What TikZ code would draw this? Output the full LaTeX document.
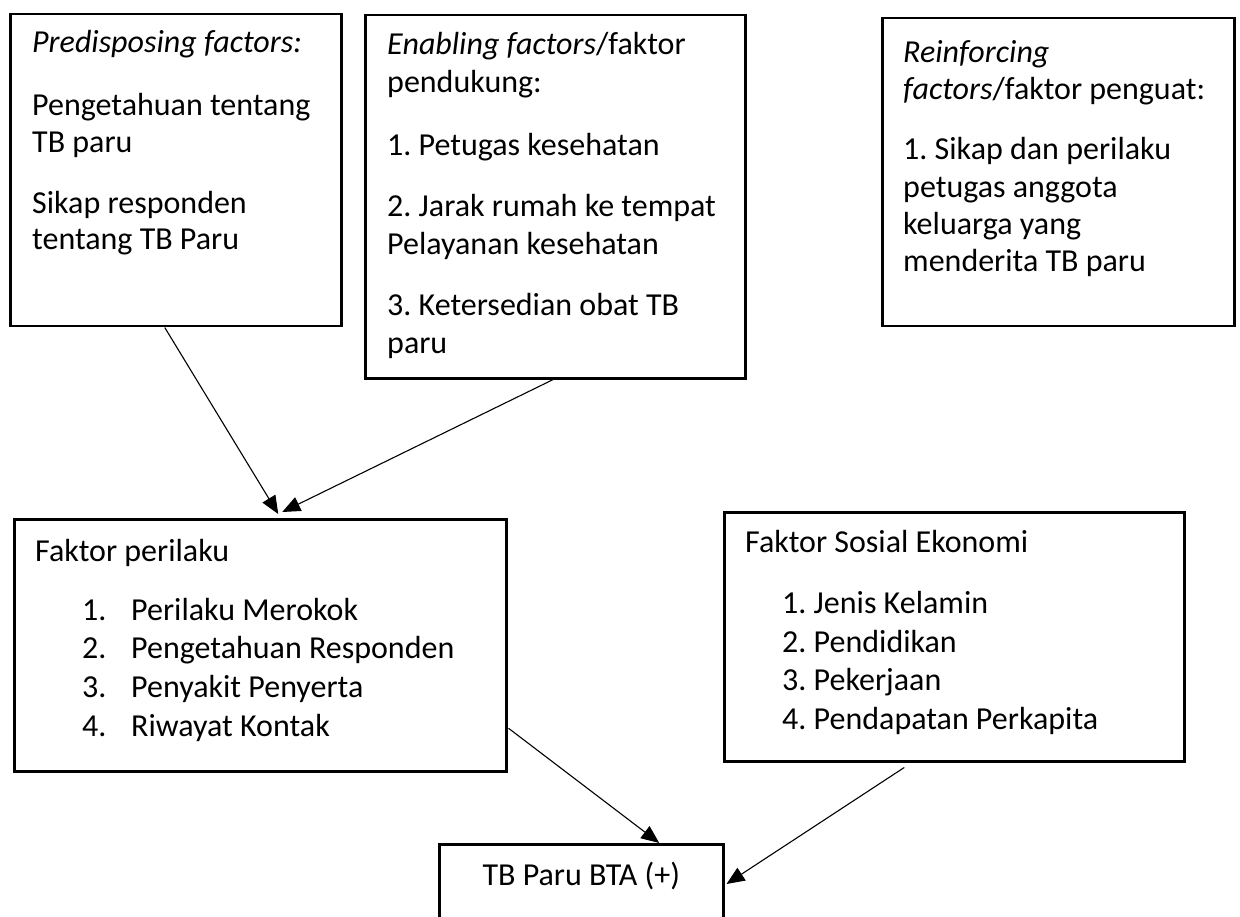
\documentclass[tikz,border=0pt]{standalone}
\usepackage{fontspec}
\setmainfont{Carlito}
\frenchspacing
\usetikzlibrary{arrows.meta,calc}
\tikzset{
  box/.style={draw=black, line width=2.5pt, rectangle, anchor=north west, inner sep=0pt},
  txt/.style={anchor=base west, inner sep=0pt, font=\fontsize{32}{38}\selectfont\frenchspacing},
  conn/.style={draw=black, line width=1.1pt, -{Triangle[length=18pt,width=15pt]}}
}
\begin{document}
\begin{tikzpicture}[x=1pt,y=-1pt]
\useasboundingbox (0,0) rectangle (1240,917);
\clip (0,0) rectangle (1240,917);
\fill[white] (0,0) rectangle (1240,917);
% boxes
\node[box, minimum width=331pt, minimum height=312pt] (b1) at (9,13) {};
\node[box, minimum width=380pt, minimum height=363pt] (b2) at (364,14) {};
\node[box, minimum width=352pt, minimum height=308pt] (b3) at (881,17) {};
\node[box, minimum width=492pt, minimum height=252pt] (b4) at (13,518) {};
\node[box, minimum width=460pt, minimum height=249pt] (b5) at (723,511) {};
\node[box, minimum width=284pt, minimum height=110pt] (b6) at (438,843) {};
% box 1 text
\node[txt] (t11) at (32,53) {\textit{Predisposing factors:}};
\node[txt] (t12) at (32,116) {Pengetahuan tentang};
\node[txt] (t13) at (32,153) {TB paru};
\node[txt] (t14) at (32,214) {Sikap responden};
\node[txt] (t15) at (32,250) {tentang TB Paru};
% box 2 text
\node[txt] (t21) at (387,55) {\textit{Enabling factors}/faktor};
\node[txt] (t22) at (387,93) {pendukung:};
\node[txt] (t23) at (387,156) {1. Petugas kesehatan};
\node[txt] (t24) at (387,217) {2. Jarak rumah ke tempat};
\node[txt] (t25) at (387,255) {Pelayanan kesehatan};
\node[txt] (t26) at (387,316) {3. Ketersedian obat TB};
\node[txt] (t27) at (387,353) {paru};
% box 3 text
\node[txt] (t31) at (903,63) {\textit{Reinforcing}};
\node[txt] (t32) at (903,100) {\textit{factors}/faktor penguat:};
\node[txt] (t33) at (903,160) {1. Sikap dan perilaku};
\node[txt] (t34) at (903,198) {petugas anggota};
\node[txt] (t35) at (903,235) {keluarga yang};
\node[txt] (t36) at (903,272) {menderita TB paru};
% box 4 text
\node[txt] (t41) at (35,561) {Faktor perilaku};
\node[txt] (n41) at (82,620) {1.};
\node[txt] (t42) at (131,620) {Perilaku Merokok};
\node[txt] (n42) at (82,658) {2.};
\node[txt] (t43) at (131,658) {Pengetahuan Responden};
\node[txt] (n43) at (82,697) {3.};
\node[txt] (t44) at (131,697) {Penyakit Penyerta};
\node[txt] (n44) at (82,736) {4.};
\node[txt] (t45) at (131,736) {Riwayat Kontak};
% box 5 text
\node[txt] (t51) at (745,552) {Faktor Sosial Ekonomi};
\node[txt] (t52) at (782,613) {1. Jenis Kelamin};
\node[txt] (t53) at (782,652) {2. Pendidikan};
\node[txt] (t54) at (782,690) {3. Pekerjaan};
\node[txt] (t55) at (782,729) {4. Pendapatan Perkapita};
% box 6 text
\node[txt, anchor=base] (t61) at ($(b6.north)+(0,42)$) {TB Paru BTA (+)};
% connectors
\draw[conn] ($(b1.south)+(-11,0)$) -- ($(b4.north)+(18,-4)$);
\draw[conn] ($(b2.south)+(-2,0)$) -- ($(b4.north)+(22,-6)$);
\draw[conn] ($(b4.east)+(1,83)$) -- ($(b6.north)+(78,0)$);
\draw[conn] ($(b5.south)+(-50,5)$) -- ($(b6.north east)+(2,41)$);
\end{tikzpicture}
\end{document}
